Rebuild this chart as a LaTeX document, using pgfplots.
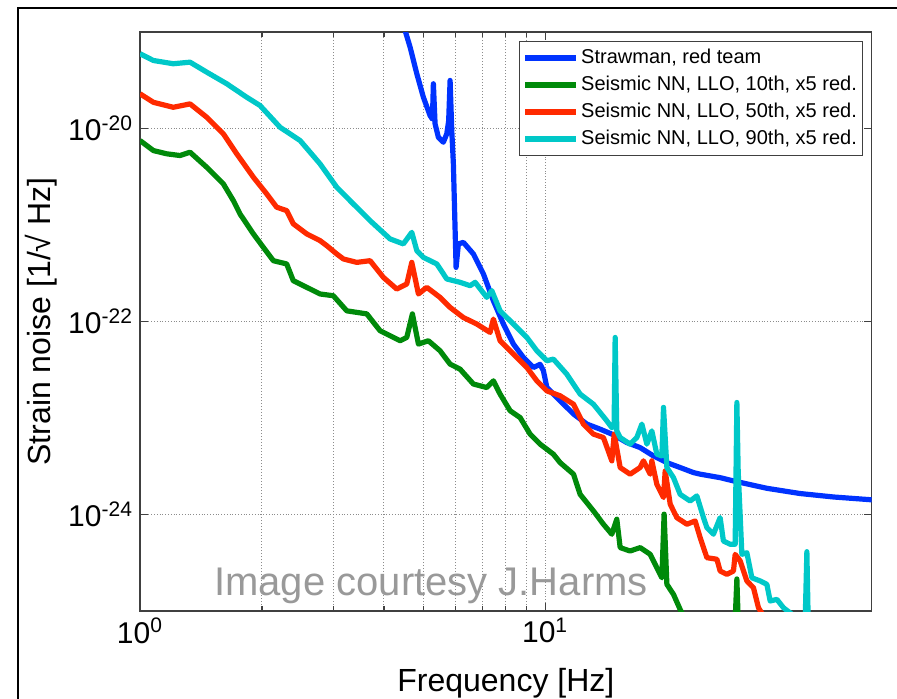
\documentclass[border=0pt]{standalone}
\usepackage{pgfplots}
\pgfplotsset{compat=1.18}
\usepackage{fontspec}
\setmainfont{Liberation Sans}
\definecolor{mblue}{HTML}{0033FF}
\definecolor{mgreen}{HTML}{008A0A}
\definecolor{mred}{HTML}{FF2A00}
\definecolor{mcyan}{HTML}{00C8C8}
\begin{document}
\begin{tikzpicture}
\useasboundingbox (0,0) rectangle (448.5pt,349.5pt);
\draw[line width=1pt] (9pt,-5pt) -- (9pt,345.35pt) -- (460pt,345.35pt);
\begin{axis}[
  at={(70pt,44pt)}, anchor=south west,
  scale only axis, width=365.85pt, height=289.5pt,
  xmode=log, ymode=log,
  xmin=1, xmax=64, ymin=1e-25, ymax=1e-19,
  xtick={1,10}, xticklabels={10\textsuperscript{0},10\textsuperscript{1}},
  ytick={1e-24,1e-22,1e-20},
  yticklabels={10\textsuperscript{-24},10\textsuperscript{-22},10\textsuperscript{-20}},
  yminorticks=false,
  xmajorgrids, xminorgrids, ymajorgrids,
  grid style={densely dotted, black!45, line width=0.5pt},
  minor grid style={densely dotted, black!45, line width=0.5pt},
  axis line style={black!75, line width=0.6pt},
  tick style={black!75, line width=0.6pt},
  major tick length=4pt, minor tick length=2.5pt,
  tick label style={font=\fontsize{15}{18}\selectfont},
  xlabel={Frequency [Hz]},
  ylabel={Strain noise [1/√ Hz]},
  label style={font=\fontsize{16}{19}\selectfont},
  xlabel style={at={(axis description cs:0.5,0)}, anchor=base, yshift=-40pt},
  ylabel style={at={(axis description cs:-0.1353,0.5)}, anchor=center},
  legend style={at={(1,1)}, anchor=north east, xshift=-4.2pt, yshift=-4.35pt,
    draw=black!75, line width=0.6pt, font=\fontsize{10}{12}\selectfont,
    inner sep=1.6pt, row sep=0pt,
    nodes={text height=7.5pt, text depth=2pt, inner ysep=2pt, inner xsep=1.3pt}},
  legend cell align=left,
  legend image code/.code={\draw[#1, line width=2.6pt] (0pt,0pt) -- (25.5pt,0pt);},
  every axis plot/.append style={line width=2.6pt, line join=round},
]
% Strawman, red team
\addplot[mblue] coordinates {
(4.511,1.04e-19) (4.642,6.97e-20) (4.823,3.69e-20) (5.006,2.11e-20) (5.200,1.36e-20)
(5.27,1.25e-20) (5.299,2.91e-20) (5.350,1.12e-20) (5.451,8.12e-21) (5.608,7.21e-21)
(5.718,8.81e-21) (5.78,1.2e-20) (5.827,3.15e-20) (5.883,9.54e-21) (5.937,4.30e-21)
(6.029,3.64e-22) (6.108,6.37e-22) (6.284,6.61e-22) (6.653,5.01e-22) (7.042,3.11e-22)
(7.453,1.64e-22) (7.889,9.42e-23) (8.351,5.84e-23) (8.841,4.24e-23) (9.357,3.34e-23)
(9.72,3.6e-23) (9.904,3.09e-23) (10.10,2.07e-23) (10.89,1.51e-23) (11.75,1.10e-23)
(12.68,8.65e-24) (13.67,7.67e-24) (14.75,6.7e-24) (15.91,5.57e-24) (17.16,4.94e-24)
(18.51,4.05e-24) (19.98,3.45e-24) (21.54,3.07e-24) (23.24,2.72e-24) (24.14,2.62e-24)
(27.04,2.41e-24) (29.17,2.23e-24) (35.27,1.87e-24) (42.62,1.65e-24) (51.51,1.52e-24)
(64.09,1.42e-24)
};
\addlegendentry{Strawman, red team}
% 10th percentile
\addplot[mgreen] coordinates {
(1.000,7.51e-21) (1.079,5.91e-21) (1.164,5.47e-21) (1.255,5.25e-21) (1.329,5.68e-21)
(1.461,3.97e-21) (1.606,2.67e-21) (1.700,1.79e-21) (1.766,1.30e-21) (1.905,8.09e-22)
(2.016,5.87e-22) (2.134,4.27e-22) (2.302,3.95e-22) (2.390,2.65e-22) (2.580,2.26e-22)
(2.783,1.93e-22) (3.001,1.85e-22) (3.239,1.29e-22) (3.629,1.20e-22) (3.914,8.03e-23)
(4.385,6.32e-23) (4.555,6.84e-23) (4.703,1.20e-22) (4.867,5.84e-23) (5.151,6.32e-23)
(5.503,4.98e-23) (5.827,3.62e-23) (6.167,3.21e-23) (6.653,2.25e-23) (7.178,2.07e-23)
(7.453,2.43e-23) (7.743,1.77e-23) (8.196,1.19e-23) (8.676,1.01e-23) (9.183,6.81e-24)
(9.720,5.36e-24) (10.48,4.22e-24) (10.89,3.45e-24) (11.75,2.62e-24) (12.20,1.62e-24)
(13.16,1.09e-24) (13.93,7.93e-25) (14.61,6.25e-25) (15.03,8.94e-25) (15.32,4.54e-25)
(16.21,4.19e-25) (17.16,4.54e-25) (18.17,3.87e-25) (18.87,2.81e-25) (19.42,2.21e-25)
(19.67,1.01e-24) (19.98,1.89e-25) (20.74,1.49e-25) (21.54,1.04e-25) (21.91,9e-26)
(29.45,8e-26) (29.74,2.15e-25) (29.96,8e-26) (40,7e-26)
};
\addlegendentry{Seismic NN, LLO, 10th, x5 red.}
% 50th percentile
\addplot[mred] coordinates {
(1.000,2.29e-20) (1.079,1.87e-20) (1.208,1.66e-20) (1.329,1.80e-20) (1.461,1.31e-20)
(1.606,8.81e-21) (1.733,5.47e-21) (1.905,3.13e-21) (2.055,2.10e-21) (2.175,1.53e-21)
(2.302,1.41e-21) (2.390,1.03e-21) (2.580,8.09e-22) (2.783,6.89e-22) (2.891,6.11e-22)
(3.060,5.01e-22) (3.177,4.45e-22) (3.428,4.10e-22) (3.698,4.27e-22) (3.988,2.87e-22)
(4.303,2.17e-22) (4.555,2.45e-22) (4.687,4.10e-22) (4.867,1.93e-22) (5.104,2.26e-22)
(5.503,1.78e-22) (5.827,1.40e-22) (6.284,1.10e-22) (6.782,9.42e-23) (7.315,7.71e-23)
(7.453,1.06e-22) (7.743,6.32e-23) (8.351,4.60e-23) (9.013,3.34e-23) (9.539,2.43e-23)
(10.10,1.91e-23) (10.89,1.70e-23) (11.75,1.39e-23) (12.43,8.65e-24) (13.16,6.81e-24)
(13.93,6.28e-24) (14.61,3.60e-24) (14.81,6.81e-24) (15.32,3.07e-24) (16.21,2.62e-24)
(17.16,3.07e-24) (17.49,3.60e-24) (18.17,2.62e-24) (18.34,3.60e-24) (18.87,2.06e-24)
(19.60,1.50e-24) (19.79,2.83e-24) (20.36,1.28e-24) (21.14,9.29e-25) (22.38,7.93e-25)
(23.46,8.58e-25) (24.14,5.76e-25) (25.08,3.57e-25) (26.55,3.44e-25) (27.04,2.60e-25)
(28.09,2.40e-25) (29.17,2.60e-25) (29.45,3.87e-25) (30.31,3.30e-25) (31.48,2.05e-25)
(32.69,1.74e-25) (33.63,1.08e-25) (34.54,9e-26)
};
\addlegendentry{Seismic NN, LLO, 50th, x5 red.}
% 90th percentile
\addplot[mcyan] coordinates {
(1.000,5.96e-20) (1.079,5.07e-20) (1.208,4.69e-20) (1.329,4.87e-20) (1.461,3.84e-20)
(1.637,2.91e-20) (1.834,2.11e-20) (1.979,1.73e-20) (2.217,1.03e-20) (2.484,7.51e-21)
(2.783,4.30e-21) (3.060,2.46e-21) (3.300,1.79e-21) (3.698,1.11e-21) (4.142,7.18e-22)
(4.468,6.37e-22) (4.687,8.40e-22) (4.823,5.42e-22) (5.006,4.62e-22) (5.402,3.95e-22)
(5.718,2.76e-22) (6.167,2.55e-22) (6.529,2.35e-22) (6.718,2.55e-22) (7.178,1.78e-22)
(7.386,2.09e-22) (7.743,1.29e-22) (8.351,9.42e-23) (9.013,6.84e-23) (9.539,4.98e-23)
(10.10,3.92e-23) (10.48,4.08e-23) (11.31,2.85e-23) (12.20,1.77e-23) (13.16,1.39e-23)
(14.20,9.35e-24) (14.61,7.97e-24) (14.80,8.2e-24) (14.89,6.84e-23) (15.03,7.36e-24)
(15.32,6.28e-24) (16.21,5.36e-24) (16.84,6.28e-24) (17.33,8.65e-24) (17.83,5.36e-24)
(18.34,7.36e-24) (18.87,4.22e-24) (19.42,4.05e-24) (19.60,1.29e-23) (19.98,3.07e-24)
(20.74,2.41e-24) (21.54,1.62e-24) (22.80,1.38e-24) (23.69,1.56e-24) (24.60,9.29e-25)
(25.08,7.31e-25) (26.03,6.25e-25) (27.04,9.29e-25) (27.55,5.32e-25) (28.63,4.92e-25)
(29.45,4.92e-25) (29.74,1.45e-23) (29.96,2.83e-24) (30.60,3.87e-25) (31.48,4.02e-25)
(32.39,2.21e-25) (33.96,2.05e-25) (35.27,1.89e-25) (35.94,1.27e-25) (37.34,1.32e-25)
(38.77,1.08e-25) (41.04,9e-26) (43.85,8e-26) (44.27,4.12e-25) (44.60,8e-26) (55,7e-26)
};
\addlegendentry{Seismic NN, LLO, 90th, x5 red.}
\node[anchor=base west, inner sep=0pt, text=black!40, font=\fontsize{20}{24}\selectfont]
  at (rel axis cs:0.101,0.026) {Image courtesy J.Harms};
\end{axis}
\end{tikzpicture}
\end{document}
